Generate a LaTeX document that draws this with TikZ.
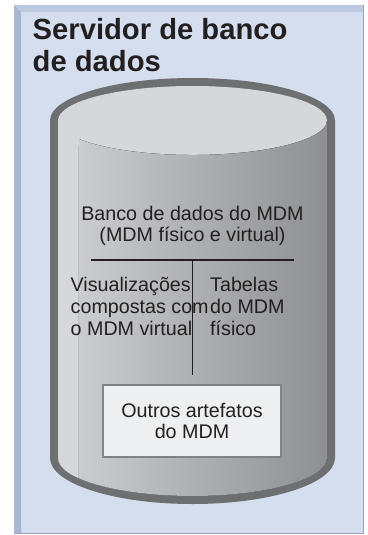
\documentclass[tikz,border=0pt]{standalone}
\usepackage{fontspec}
\setmainfont{Liberation Sans}
\definecolor{ink}{HTML}{231F20}
\definecolor{panelfill}{HTML}{D4DEEE}
\definecolor{paneltop}{HTML}{BCC8DE}
\definecolor{panelleft}{HTML}{A8B6D0}
\definecolor{paneledge}{HTML}{98A5BE}
\definecolor{rim}{HTML}{6E6F71}
\definecolor{lid}{HTML}{D6D7D9}
\definecolor{bodyl}{HTML}{CBCCCE}
\definecolor{bodyr}{HTML}{8E8F91}
\definecolor{boxfill}{HTML}{EEEFF1}
\definecolor{boxline}{HTML}{808285}
\tikzset{% styles for the picture
    t/.style={font=\fontsize{19.7}{21.7}\selectfont, text=ink, inner sep=0pt},
    title/.style={font=\fontsize{29.2}{31.7}\selectfont\bfseries, text=ink, inner sep=0pt, align=left},
    l/.style={draw=ink, line width=1.5pt},
    artbox/.style={t, draw=boxline, fill=boxfill, line width=1.5pt, minimum width=178pt, minimum height=72pt, align=center}}

\begin{document}
\begin{tikzpicture}[x=1pt,y=1pt]
  \useasboundingbox (0,0) rectangle (367,-535);
  % panel
  \fill[panelfill] (14,-5) rectangle (364,-534);
  \fill[paneltop] (14,-5) -- (364,-5) -- (363,-12) -- (21,-12) -- cycle;
  \fill[panelleft] (14,-5) -- (21,-12) -- (21,-533) -- (14,-534) -- cycle;
  \draw[paneledge, line width=1pt] (363.5,-5) -- (363.5,-533.5) -- (14,-533.5);
  \node[title, anchor=base west] (server) at (32.5,-71.7) {Servidor de banco\\de dados};

  % cylinder
  \fill[rim] (335,-120.5) arc[start angle=0, end angle=180, x radius=142.5, y radius=42.5]
    -- (50,-458) arc[start angle=180, end angle=360, x radius=142.5, y radius=46] -- cycle;
  \fill[lid] (327,-120.5) arc[start angle=0, end angle=180, x radius=134.5, y radius=34.5]
    -- (58,-458) arc[start angle=180, end angle=360, x radius=134.5, y radius=38] -- cycle;
  \fill[left color=bodyl, right color=bodyr]
    (79,-139) arc[start angle=212.4, end angle=360, x radius=134.5, y radius=34.5]
    -- (327,-458) arc[start angle=0, end angle=-147.6, x radius=134.5, y radius=38] -- cycle;

  \node[t, anchor=base, align=center] (db) at (192.5,-241.7) {Banco de dados do MDM\\(MDM físico e virtual)};
  \coordinate (hl) at (91,-260);
  \coordinate (hr) at (294,-260);
  \coordinate (vt) at (192.5,-260);
  \coordinate (vb) at (192.5,-375);
  \draw[l] (hl) -- (hr);
  \draw[l] (vt) -- (vb);
  \node[t, anchor=base west, align=left] (views) at (70.5,-335) {Visualizações\\compostas com\\o MDM virtual};
  \node[t, anchor=base west, align=left] (tables) at (210,-335) {Tabelas\\do MDM\\físico};
  \node[artbox] (other) at (192,-421) {Outros artefatos\\do MDM};
\end{tikzpicture}
\end{document}
